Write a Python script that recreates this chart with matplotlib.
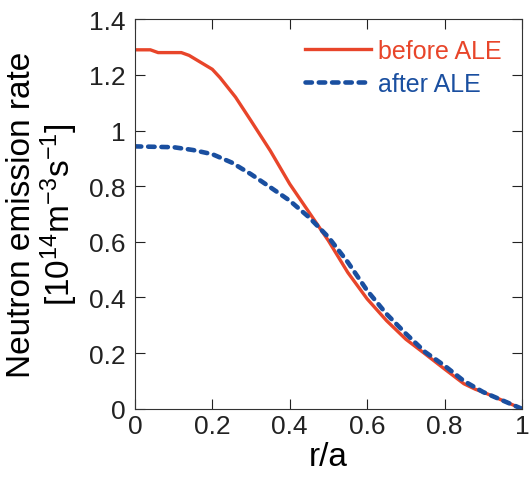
import matplotlib.pyplot as plt

plt.rcParams['font.family'] = ['Liberation Sans', 'DejaVu Sans']
plt.rcParams['mathtext.fontset'] = 'custom'
plt.rcParams['mathtext.rm'] = 'Liberation Sans'
plt.rcParams['mathtext.it'] = 'Liberation Sans'

# before ALE
r_before = [0.0, 0.04, 0.06, 0.12, 0.14, 0.2, 0.22, 0.26, 0.3, 0.35, 0.4, 0.45,
            0.5, 0.55, 0.6, 0.65, 0.7, 0.75, 0.8, 0.85, 0.88, 0.9, 0.95, 1.0]
n_before = [1.29, 1.29, 1.28, 1.28, 1.27, 1.22, 1.19, 1.12, 1.035, 0.927, 0.808, 0.706,
            0.604, 0.49, 0.395, 0.317, 0.25, 0.197, 0.143, 0.09, 0.07, 0.06, 0.03, 0.0]
# after ALE
r_after = [0.0, 0.1, 0.15, 0.2, 0.25, 0.3, 0.35, 0.4, 0.45, 0.5, 0.55, 0.6,
           0.65, 0.7, 0.75, 0.8, 0.85, 0.9, 0.95, 1.0]
n_after = [0.943, 0.94, 0.93, 0.915, 0.885, 0.843, 0.796, 0.748, 0.688, 0.617, 0.527, 0.425,
           0.341, 0.27, 0.204, 0.155, 0.10, 0.06, 0.03, 0.0]

red = '#e8452a'
blue = '#1a4fa0'

fig = plt.figure(figsize=(5.31, 4.81), dpi=100)
ax = fig.add_axes([0.254, 0.148, 0.729, 0.81])

ax.plot(r_before, n_before, color=red, lw=2.4, label='before ALE')
ax.plot(r_after, n_after, color=blue, lw=3.3, dashes=[1.4, 1.5],
        dash_capstyle='round', label='after ALE')

ax.set_xlim(0, 1)
ax.set_ylim(0, 1.4)
ax.set_xticks([0, 0.2, 0.4, 0.6, 0.8, 1])
ax.set_xticklabels(['0', '0.2', '0.4', '0.6', '0.8', '1'])
ax.set_yticks([0, 0.2, 0.4, 0.6, 0.8, 1, 1.2, 1.4])
ax.set_yticklabels(['0', '0.2', '0.4', '0.6', '0.8', '1', '1.2', '1.4'])
ax.tick_params(direction='in', length=7.5, width=0.8, top=True, right=True,
               labelsize=19, colors='#222222')
ax.tick_params(axis='x', pad=4)
ax.tick_params(axis='y', pad=7)
for s in ax.spines.values():
    s.set_linewidth(0.8)
    s.set_color('#333333')

ax.set_xlabel('r/a', fontsize=24, labelpad=2)
ax.set_ylabel('Neutron emission rate\n[10$^{14}$m$^{-3}$s$^{-1}$]', fontsize=24,
              labelpad=6, linespacing=1.05)

leg = ax.legend(loc='upper right', frameon=False, fontsize=18, handlelength=2.65,
                handletextpad=0.3, labelspacing=0.35, borderaxespad=0.45,
                borderpad=0.35)
for t, c in zip(leg.get_texts(), [red, blue]):
    t.set_color(c)

fig.savefig('out.png', dpi=100)
